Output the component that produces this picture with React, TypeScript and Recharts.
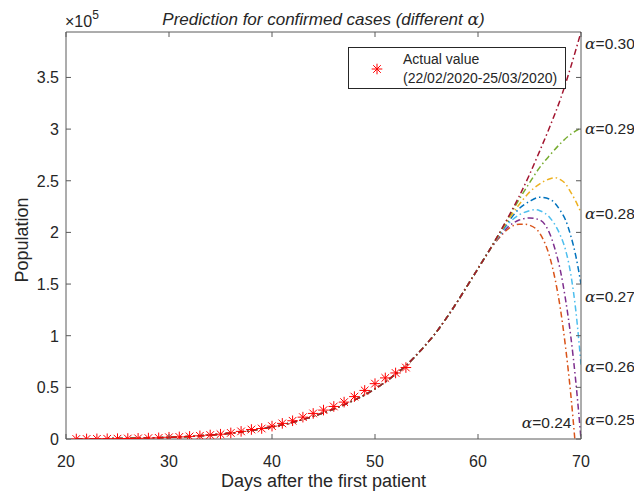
import React from 'react';
import {
  ComposedChart,
  Line,
  Scatter,
  XAxis,
  YAxis,
  Legend,
  ReferenceDot,
  Customized,
} from 'recharts';

// ---------- data ----------
const actualDays = [
  21, 22, 23, 24, 25, 26, 27, 28, 29, 30, 31, 32, 33, 34, 35, 36, 37, 38, 39, 40,
  41, 42, 43, 44, 45, 46, 47, 48, 49, 50, 51, 52, 53,
];
const actualCases = [
  20, 79, 157, 229, 323, 470, 655, 889, 1128, 1694, 2036, 2502, 3089, 3858, 4636,
  5883, 7375, 9172, 10149, 12462, 15113, 17660, 21157, 24747, 27980, 31506, 35713,
  41035, 47021, 53578, 59138, 63927, 69176,
];

// common part of the fitted curves (all alphas coincide)
const fitDays = [
  21, 22, 23, 24, 25, 26, 27, 28, 29, 30, 31, 32, 33, 34, 35, 36, 37, 38, 39, 40,
  41, 42, 43, 44, 45, 46, 47, 48, 49, 50, 51, 52, 53, 54, 55, 56, 57, 58, 59, 60, 61,
];
const fitCases = [
  150, 200, 270, 360, 470, 610, 790, 1010, 1280, 1610, 2010, 2500, 3090, 3800, 4640,
  5640, 6820, 8200, 9800, 11650, 13750, 16150, 18850, 21900, 25300, 29050, 33200,
  37750, 42700, 48500, 55200, 62800, 71000, 81000, 92000, 104000, 118000, 133000,
  149000, 165000, 181000,
];

// tails (values in units of 1e5)
const tail024Days = [62, 63, 64, 64.5, 65, 66, 67, 67.5, 68, 68.5, 69, 69.4];
const tail024Vals = [1.94, 2.04, 2.08, 2.08, 2.07, 1.99, 1.75, 1.54, 1.26, 0.89, 0.44, 0];
const tail025Days = [62, 63, 64, 65, 66, 67, 67.5, 68, 68.5, 69, 69.5, 70];
const tail025Vals = [1.95, 2.06, 2.12, 2.14, 2.12, 1.98, 1.83, 1.63, 1.35, 1.0, 0.55, 0];
const tail026Days = [62, 63, 64, 65, 65.5, 66, 67, 68, 68.5, 69, 69.5, 70];
const tail026Vals = [1.96, 2.09, 2.17, 2.21, 2.22, 2.21, 2.14, 1.97, 1.83, 1.6, 1.24, 0.72];
const tail027Days = [62, 63, 64, 65, 66, 67, 68, 68.5, 69, 69.5, 70];
const tail027Vals = [1.97, 2.11, 2.23, 2.3, 2.34, 2.32, 2.21, 2.12, 1.97, 1.77, 1.5];
const tail028Days = [62, 63, 64, 65, 66, 67, 67.5, 68, 68.5, 69, 69.5, 70];
const tail028Vals = [1.97, 2.13, 2.27, 2.39, 2.47, 2.52, 2.53, 2.51, 2.47, 2.39, 2.3, 2.19];
const tail029Days = [62, 63, 64, 65, 66, 67, 68, 69, 70];
const tail029Vals = [1.98, 2.15, 2.32, 2.48, 2.63, 2.75, 2.86, 2.95, 3.01];
const tail030Days = [62, 63, 64, 65, 66, 67, 68, 69, 70];
const tail030Vals = [1.98, 2.16, 2.35, 2.56, 2.79, 3.03, 3.29, 3.6, 3.94];

const alphaNames = ['0.24', '0.25', '0.26', '0.27', '0.28', '0.29', '0.30'];
const alphaColors = ['#D95319', '#7E2F8E', '#4DBEEE', '#0072BD', '#EDB120', '#77AC30', '#A2142F'];
const tailDays = [tail024Days, tail025Days, tail026Days, tail027Days, tail028Days, tail029Days, tail030Days];
const tailVals = [tail024Vals, tail025Vals, tail026Vals, tail027Vals, tail028Vals, tail029Vals, tail030Vals];

// annotation anchors (day, value) for the alpha labels
const labelNames = ['0.30', '0.29', '0.28', '0.27', '0.26', '0.25', '0.24'];
const labelDays = [70.4, 70.4, 70.4, 70.4, 70.4, 70.4, 64.25];
const labelVals = [383000, 301000, 218000, 138000, 70000, 19000, 16000];

const xTicks = [20, 30, 40, 50, 60, 70];
const yTicks = [0, 50000, 100000, 150000, 200000, 250000, 300000, 350000];

// ---------- build tables ----------
const actualData = actualDays.map((d, i) => ({ day: d, cases: actualCases[i] }));
const seriesData = alphaNames.map((_, k) => [
  ...fitDays.map((d, i) => ({ day: d, v: fitCases[i] })),
  ...tailDays[k].map((d, i) => ({ day: d, v: tailVals[k][i] * 1e5 })),
]);

// ---------- styling ----------
const FONT = '"Liberation Sans", Arial, Helvetica, sans-serif';
const SERIF = '"DejaVu Serif", "Liberation Serif", serif';
const TXT = '#262626';
const FRAME = '#5a5a5a';
const W = 634;
const H = 493;

const fmtY = (v: number) => {
  const s = v / 1e5;
  return s === 0 ? '0' : String(s);
};

const BottomTick = (p: any) => (
  <g>
    <line x1={p.x} x2={p.x} y1={p.y} y2={p.y - 5} stroke={FRAME} strokeWidth={1} />
    <text x={p.x} y={p.y + 28} textAnchor="middle" fontSize={16} fontFamily={FONT} fill={TXT}>
      {p.payload.value}
    </text>
  </g>
);
const TopTick = (p: any) => (
  <line x1={p.x} x2={p.x} y1={p.y} y2={p.y + 5} stroke={FRAME} strokeWidth={1} />
);
const LeftTick = (p: any) => (
  <g>
    <line x1={p.x} x2={p.x + 5} y1={p.y} y2={p.y} stroke={FRAME} strokeWidth={1} />
    <text x={p.x - 7} y={p.y + 6} textAnchor="end" fontSize={16} fontFamily={FONT} fill={TXT}>
      {fmtY(p.payload.value)}
    </text>
  </g>
);
const RightTick = (p: any) => (
  <line x1={p.x} x2={p.x - 5} y1={p.y} y2={p.y} stroke={FRAME} strokeWidth={1} />
);

const StarShape = (p: any) => {
  const { cx, cy } = p;
  if (cx == null || cy == null) return <g />;
  const r = 5.3;
  const d = r * 0.72;
  return (
    <g stroke="#FF0000" strokeWidth={1}>
      <line x1={cx - r} x2={cx + r} y1={cy} y2={cy} />
      <line x1={cx} x2={cx} y1={cy - r} y2={cy + r} />
      <line x1={cx - d} x2={cx + d} y1={cy - d} y2={cy + d} />
      <line x1={cx - d} x2={cx + d} y1={cy + d} y2={cy - d} />
    </g>
  );
};

const AlphaLabel = (name: string) => (p: any) => (
  <text x={p.cx} y={p.cy} dy={5.5} fontSize={15.5} fontFamily={FONT} fill={TXT}>
    <tspan fontFamily={SERIF} fontStyle="italic">α</tspan>
    <tspan>={name}</tspan>
  </text>
);

const LegendBox = () => (
  <div
    style={{
      width: 218,
      height: 42,
      boxSizing: 'border-box',
      border: `1px solid ${TXT}`,
      background: '#fff',
      position: 'relative',
      fontFamily: FONT,
      fontSize: 14,
      color: TXT,
    }}
  >
    <svg width={20} height={20} style={{ position: 'absolute', left: 18, top: 11 }}>
      <StarShape cx={10} cy={10} />
    </svg>
    <div style={{ position: 'absolute', left: 54, top: 2, lineHeight: '19px', whiteSpace: 'nowrap' }}>
      Actual value
      <br />
      (22/02/2020-25/03/2020)
    </div>
  </div>
);

const Texts = () => (
  <g fontFamily={FONT} fill={TXT}>
    <text x={323.5} y={25} textAnchor="middle" fontSize={17} fontStyle="italic">
      Prediction for confirmed cases (different{' '}
      <tspan fontFamily={SERIF}>α</tspan>)
    </text>
    <text x={65} y={27} fontSize={16}>
      ×10
      <tspan fontSize={12} dy={-8}>5</tspan>
    </text>
    <text x={323.5} y={487} textAnchor="middle" fontSize={18}>
      Days after the first patient
    </text>
    <text x={28} y={240} textAnchor="middle" fontSize={18} transform="rotate(-90 28 240)">
      Population
    </text>
  </g>
);

export default function App() {
  return (
    <div style={{ position: 'absolute', left: 0, top: 0, width: W, height: H, background: '#fff' }}>
      <ComposedChart width={W} height={H} margin={{ top: 31, right: 52, bottom: 0, left: 0 }}>
        <XAxis
          xAxisId="main"
          dataKey="day"
          type="number"
          domain={[20, 70]}
          ticks={xTicks}
          orientation="bottom"
          height={54}
          tickSize={0}
          tickMargin={0}
          tick={BottomTick}
          axisLine={{ stroke: FRAME }}
          allowDataOverflow
        />
        <XAxis
          xAxisId="top"
          dataKey="day"
          type="number"
          domain={[20, 70]}
          ticks={xTicks}
          orientation="top"
          height={1}
          tickSize={0}
          tickMargin={0}
          tick={TopTick}
          axisLine={{ stroke: FRAME }}
          allowDataOverflow
        />
        <YAxis
          yAxisId="main"
          type="number"
          domain={[0, 394000]}
          ticks={yTicks}
          orientation="left"
          width={66}
          tickSize={0}
          tickMargin={0}
          tick={LeftTick}
          axisLine={{ stroke: FRAME }}
          allowDataOverflow
        />
        <YAxis
          yAxisId="right"
          type="number"
          domain={[0, 394000]}
          ticks={yTicks}
          orientation="right"
          width={1}
          tickSize={0}
          tickMargin={0}
          tick={RightTick}
          axisLine={{ stroke: FRAME }}
          allowDataOverflow
        />
        {alphaNames.map((a, k) => (
          <Line
            key={a}
            xAxisId="main"
            yAxisId="main"
            data={seriesData[k]}
            dataKey="v"
            type="monotone"
            stroke={alphaColors[k]}
            strokeWidth={1.5}
            strokeDasharray="6 3 1.5 3"
            dot={false}
            activeDot={false}
            isAnimationActive={false}
            name={`alpha=${a}`}
          />
        ))}
        <Scatter
          xAxisId="main"
          yAxisId="main"
          data={actualData}
          dataKey="cases"
          shape={StarShape}
          isAnimationActive={false}
          name="Actual value"
        />
        {labelNames.map((n, i) => (
          <ReferenceDot
            key={n}
            xAxisId="main"
            yAxisId="main"
            x={labelDays[i]}
            y={labelVals[i]}
            r={0}
            ifOverflow="visible"
            shape={AlphaLabel(n)}
          />
        ))}
        <Legend
          layout="vertical"
          align="center"
          verticalAlign="middle"
          content={() => <LegendBox />}
          wrapperStyle={{ position: 'absolute', left: 348, top: 47, width: 218, height: 42 }}
        />
        <Customized component={<Texts />} />
      </ComposedChart>
    </div>
  );
}
